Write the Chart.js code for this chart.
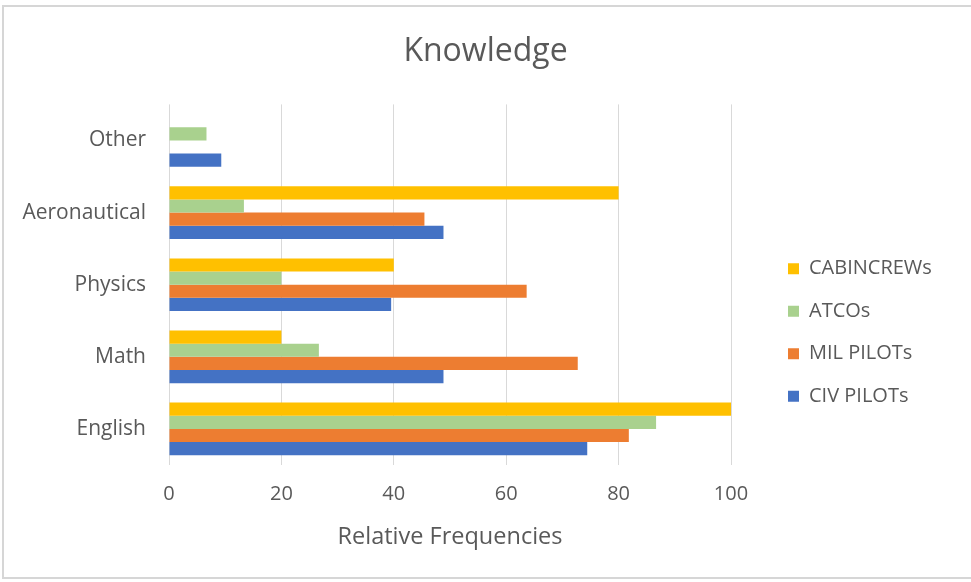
<!DOCTYPE html>
<html>
<head>
<meta charset="utf-8">
<script src="https://cdn.jsdelivr.net/npm/chart.js@4/dist/chart.umd.min.js"></script>
<style>
  html, body { margin: 0; padding: 0; background: #fff; }
  #wrap { position: relative; width: 971px; height: 582px; overflow: hidden; }
  #frame { position: absolute; left: 2px; top: 5px; width: 980px; height: 574px;
           border: 2px solid #d6d6d6; box-sizing: border-box; pointer-events: none; }
  canvas { position: absolute; left: 0; top: 0; }
</style>
</head>
<body>
<div id="wrap">
  <canvas id="chart" width="971" height="582"></canvas>
  <div id="frame"></div>
</div>
<script>
// Knowledge areas, listed top to bottom
const categories = ['Other', 'Aeronautical', 'Physics', 'Math', 'English'];

// Relative frequencies (%) per group
const cabinCrews = [0, 80, 40, 20, 100];
const atcos      = [6.67, 13.33, 20, 26.67, 86.67];
const milPilots  = [0, 45.45, 63.64, 72.73, 81.82];
const civPilots  = [9.30, 48.84, 39.53, 48.84, 74.42];

const seriesNames = ['CABINCREWs', 'ATCOs', 'MIL PILOTs', 'CIV PILOTs'];
const xTicks = [0, 20, 40, 60, 80, 100];

const FONT = "'Open Sans', 'Noto Sans', sans-serif";
const TEXT = '#595959';

// Layout targets on the 971px canvas
const PLOT_LEFT = 169, PLOT_RIGHT = 731, LEGEND_BOX_X = 788;
const LEGEND_FONT = 20, LEGEND_BOX = 11, LEGEND_PAD = 22.5;

// Width of the widest legend entry, so the space right of the legend can be sized
const probe = document.createElement('canvas').getContext('2d');
probe.font = LEGEND_FONT + 'px ' + FONT;
const widestLabel = Math.max(...seriesNames.map(n => probe.measureText(n).width));
const legendWidth = LEGEND_PAD + LEGEND_BOX + LEGEND_FONT / 2 + widestLabel + 10;
const innerGap = LEGEND_BOX_X - LEGEND_PAD - PLOT_RIGHT;
const outerGap = Math.max(0, 971 - PLOT_RIGHT - innerGap - legendWidth);

new Chart(document.getElementById('chart'), {
  type: 'bar',
  data: {
    labels: categories,
    datasets: [
      { label: seriesNames[0], data: cabinCrews, backgroundColor: '#FFC000' },
      { label: seriesNames[1], data: atcos,      backgroundColor: '#A9D18E' },
      { label: seriesNames[2], data: milPilots,  backgroundColor: '#ED7D31' },
      { label: seriesNames[3], data: civPilots,  backgroundColor: '#4472C4' }
    ]
  },
  options: {
    indexAxis: 'y',
    responsive: false,
    animation: false,
    devicePixelRatio: 1,
    layout: { padding: 0 },
    datasets: { bar: { categoryPercentage: 0.73, barPercentage: 1.0, borderWidth: 0 } },
    scales: {
      x: {
        type: 'linear',
        min: 0, max: 100,
        afterBuildTicks: (s) => { s.ticks = xTicks.map(v => ({ value: v })); },
        afterFit: (s) => { s.height = 117; },
        grid: { color: '#d9d9d9', lineWidth: 1, drawTicks: false },
        border: { display: false },
        ticks: { color: TEXT, font: { family: FONT, size: 20 }, padding: 17 },
        title: { display: true, text: 'Relative Frequencies', color: TEXT,
                 font: { family: FONT, size: 23.5 }, padding: { top: 0, bottom: 31 } }
      },
      y: {
        type: 'category',
        afterFit: (s) => { s.width = PLOT_LEFT; },
        grid: { display: false },
        border: { display: false },
        ticks: { color: TEXT, font: { family: FONT, size: 21 }, padding: 15 }
      },
      // empty spacer between the plot and the legend
      gap: {
        type: 'linear',
        position: 'right',
        weight: 0,
        afterFit: (s) => { s.width = innerGap; },
        grid: { display: false },
        border: { display: false },
        ticks: { display: false }
      },
      // empty spacer outside the legend
      edge: {
        type: 'linear',
        position: 'right',
        weight: 2000,
        afterFit: (s) => { s.width = outerGap; },
        grid: { display: false },
        border: { display: false },
        ticks: { display: false }
      }
    },
    plugins: {
      title: {
        display: true,
        text: 'Knowledge',
        color: TEXT,
        font: { family: FONT, size: 32, weight: 'normal' },
        padding: { top: 33, bottom: 33 }
      },
      legend: {
        position: 'right',
        fullSize: false,
        align: 'center',
        maxWidth: 400,
        title: { display: true, text: '', padding: { top: 0, bottom: 3 }, font: { size: 77 } },
        labels: {
          color: TEXT,
          font: { family: FONT, size: LEGEND_FONT },
          boxWidth: LEGEND_BOX, boxHeight: LEGEND_BOX,
          padding: LEGEND_PAD
        }
      },
      tooltip: { enabled: false }
    }
  }
});
</script>
</body>
</html>
